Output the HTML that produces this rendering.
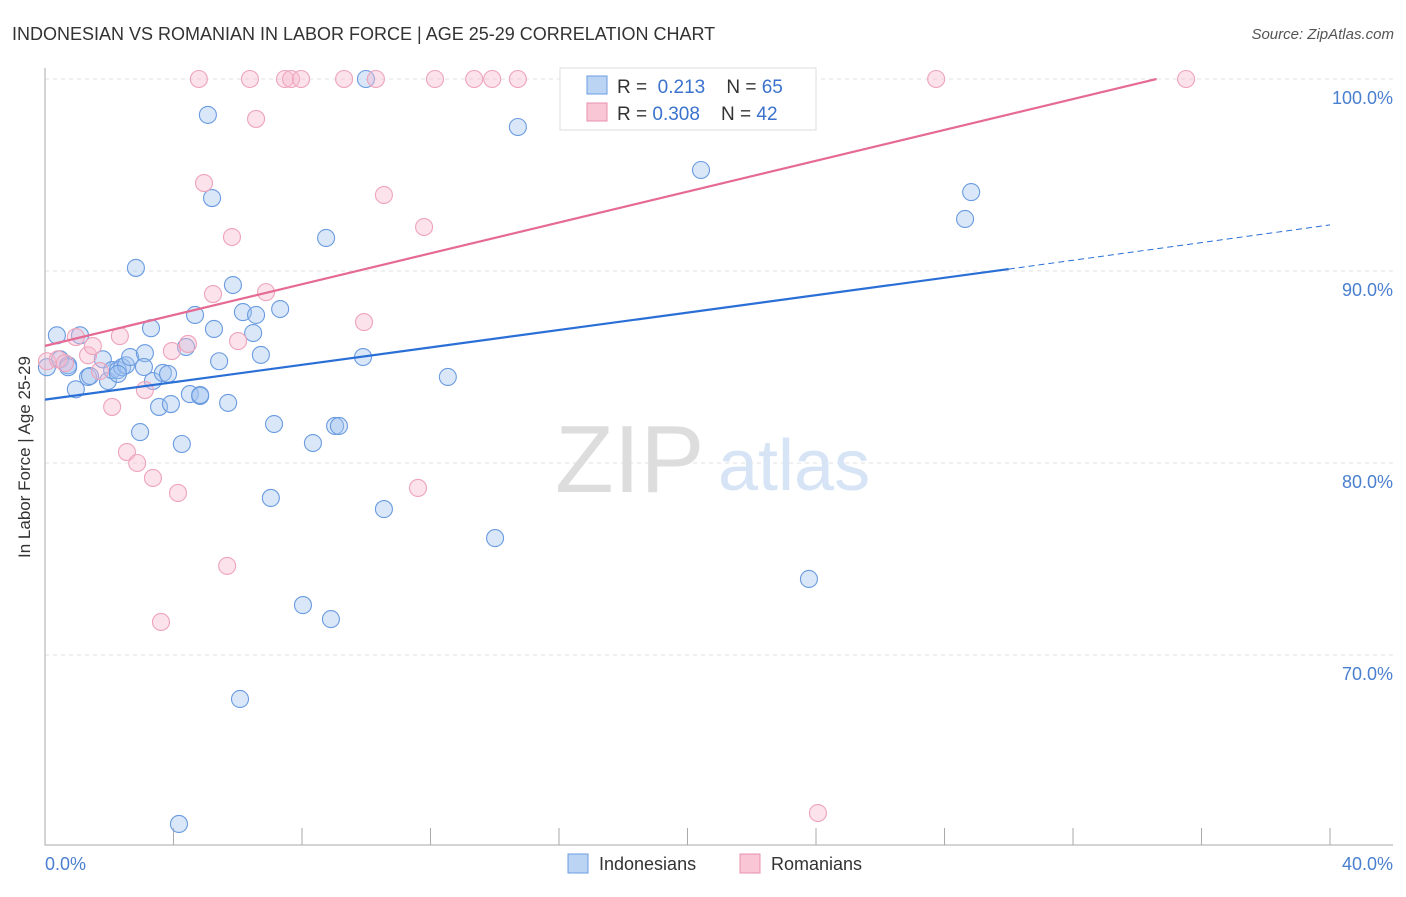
<!DOCTYPE html>
<html><head><meta charset="utf-8"><style>
body{margin:0;background:#fff;font-family:"Liberation Sans",sans-serif}
svg text{font-family:"Liberation Sans",sans-serif}
</style></head><body>
<svg width="1406" height="892">
<text x="12" y="40" font-size="18" fill="#333">INDONESIAN VS ROMANIAN IN LABOR FORCE | AGE 25-29 CORRELATION CHART</text>
<text x="1394" y="39" font-size="15" fill="#555" text-anchor="end" font-style="italic">Source: ZipAtlas.com</text>
<g id="grid"></g>
<text x="555" y="492" font-size="96" fill="#ddd" font-family="Liberation Serif">ZIP</text>
<text x="718" y="490" font-size="72" fill="#d6e4f6">atlas</text>
<g id="pts"></g>
<g id="lines"></g>
<text x="30" y="457" font-size="17" fill="#333" text-anchor="middle" transform="rotate(-90 30 457)">In Labor Force | Age 25-29</text>
<text x="45" y="870" font-size="18" fill="#4a7fd0">0.0%</text>
<text x="1393" y="870" font-size="18" fill="#4a7fd0" text-anchor="end">40.0%</text>
<g>
<rect x="560" y="68" width="256" height="62" fill="#fff" stroke="#ddd"/>
<rect x="587" y="76" width="20" height="18" fill="#bcd4f4" stroke="#6a9be0"/>
<rect x="587" y="103" width="20" height="18" fill="#f9c6d6" stroke="#e890ae"/>
<text x="617" y="93" font-size="19" fill="#333" xml:space="preserve">R =  <tspan fill="#3a72cc">0.213</tspan>    N = <tspan fill="#3a72cc">65</tspan></text>
<text x="617" y="120" font-size="19" fill="#333" xml:space="preserve">R = <tspan fill="#3a72cc">0.308</tspan>    N = <tspan fill="#3a72cc">42</tspan></text>
</g>
<g>
<rect x="568" y="854" width="20" height="19" fill="#bcd4f4" stroke="#6a9be0"/>
<text x="599" y="870" font-size="18" fill="#333">Indonesians</text>
<rect x="740" y="854" width="20" height="19" fill="#f9c6d6" stroke="#e890ae"/>
<text x="771" y="870" font-size="18" fill="#333">Romanians</text>
</g>
</svg>
<script>
const blueX=[0.06,0.37,0.47,0.72,0.96,1.09,1.34,1.4,1.8,1.96,2.09,2.27,2.4,2.52,2.65,2.83,2.96,3.11,3.3,3.36,3.55,3.67,3.83,3.92,4.26,4.39,4.51,4.67,4.83,5.07,5.2,5.26,5.42,5.7,5.85,6.07,6.16,6.48,6.57,6.72,7.03,7.13,7.32,8.03,8.34,8.75,8.9,9.03,9.15,9.9,9.99,10.55,12.54,14.01,14.72,18.83,20.42,23.78,28.64,28.83,4.17,0.72,2.27,4.83,3.08];
const blueY=[84.99,86.65,85.4,85.09,83.84,86.65,84.48,84.53,85.4,84.27,84.84,84.84,84.99,85.09,85.52,90.16,81.61,85.72,87.02,84.27,82.92,84.69,84.64,83.07,80.99,86.04,83.59,87.71,83.49,98.13,93.8,86.98,85.3,83.13,89.27,67.71,87.86,86.77,87.71,85.63,78.18,82.03,88.02,72.6,81.04,91.72,71.87,81.93,81.93,85.52,100,77.6,84.48,76.09,97.5,100,95.26,73.96,92.71,94.11,61.2,84.99,84.64,83.54,85.0];
const pinkX=[0.06,0.4,0.62,0.96,1.34,1.49,1.71,2.09,2.33,2.55,2.87,3.11,3.36,3.61,3.95,4.14,4.45,4.95,5.23,5.67,5.82,6.01,6.57,6.88,4.79,6.38,7.47,7.66,7.97,9.31,10.3,12.14,13.36,13.92,14.72,9.93,10.55,11.61,11.8,24.06,27.74,35.52];
const pinkY=[85.3,85.4,85.2,86.56,85.61,86.09,84.79,82.92,86.61,80.57,80.0,83.8,79.22,71.72,85.83,78.44,86.2,94.58,88.8,74.64,91.77,86.35,97.92,88.9,100,100,100,100,100,100,100,100,100,100,100,87.34,93.96,78.7,92.29,61.77,100,100];
const blueLineX=[0,30,40], blueLineY=[83.3,90.1,92.4];
const pinkLineX=[0,34.6], pinkLineY=[86.1,100];
const yTicks=[100,90,80,70];
const xs=v=>45+v/40*1285, ys=v=>79+(100-v)*19.2;
const NS='http://www.w3.org/2000/svg';
function mk(t,a,p){const e=document.createElementNS(NS,t);for(const k in a)e.setAttribute(k,a[k]);p.appendChild(e);return e;}
const g=document.getElementById('grid');
yTicks.forEach(t=>{
 const l=mk('line',{x1:45,x2:1393,y1:ys(t),y2:ys(t),stroke:'#e2e2e2','stroke-dasharray':'4,4'},g);
 
 
 const tx=mk('text',{x:1393,y:ys(t)+25,'font-size':18,fill:'#4a7fd0','text-anchor':'end'},g);
 tx.textContent=t.toFixed(1)+'%';
 
 
});
const ax=mk('path',{d:'M45 68V845H1393',stroke:'#aaa',fill:'none'},g);


for(let i=0;i<=10;i++){const tk=mk('line',{x1:xs(i*4),x2:xs(i*4),y1:828,y2:845,stroke:'#aaa'},g);
 
 }
const p=document.getElementById('pts');
blueX.forEach((x,i)=>{const c=mk('circle',{cx:xs(x),cy:ys(blueY[i]),r:8.5,fill:'rgba(160,196,240,0.4)',stroke:'#6a9be0','stroke-width':1.1},p);
 
 });
pinkX.forEach((x,i)=>{const c=mk('circle',{cx:xs(x),cy:ys(pinkY[i]),r:8.5,fill:'rgba(248,186,204,0.4)',stroke:'#eea3bb','stroke-width':1.1},p);
 
 });
const L=document.getElementById('lines');
const b1=mk('line',{x1:xs(blueLineX[0]),y1:ys(blueLineY[0]),x2:xs(blueLineX[1]),y2:ys(blueLineY[1]),stroke:'#2a6fd6','stroke-width':2.2},L);


const b2=mk('line',{x1:xs(blueLineX[1]),y1:ys(blueLineY[1]),x2:xs(blueLineX[2]),y2:ys(blueLineY[2]),stroke:'#2a6fd6','stroke-width':1,'stroke-dasharray':'6,4'},L);


const p1=mk('line',{x1:xs(pinkLineX[0]),y1:ys(pinkLineY[0]),x2:xs(pinkLineX[1]),y2:ys(pinkLineY[1]),stroke:'#e56a94','stroke-width':2.2},L);


</script>
</body></html>
